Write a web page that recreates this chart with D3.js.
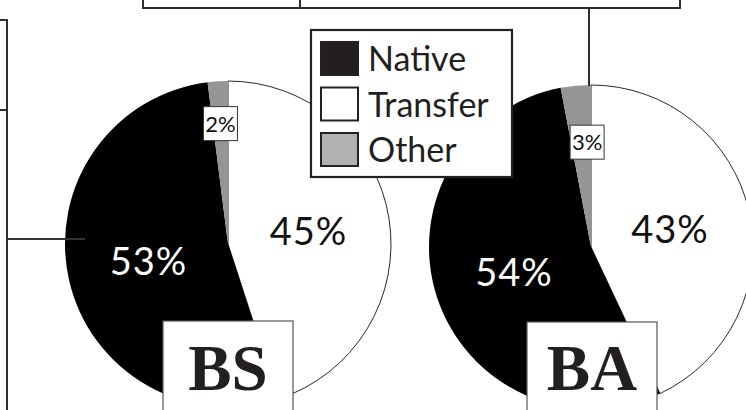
<!DOCTYPE html>
<html>
<head>
<meta charset="utf-8">
<script src="https://cdn.jsdelivr.net/npm/d3@7"></script>
<style>
  body { margin: 0; background: #fff; }
  svg { display: block; }
</style>
</head>
<body>
<svg id="chart"></svg>
<script>
/* DATA */
const categories = ["Transfer", "Native", "Other"];
const bsValues = [45, 53, 2];
const baValues = [43, 54, 3];
const degrees = ["BS", "BA"];
const legendOrder = ["Native", "Transfer", "Other"];

/* LAYOUT */
const width = 746, height = 410;
const pies = [
  { name: degrees[0], values: bsValues, cx: 228, cy: 244, r: 163, smallR: 0.74, nudge: 0, boxX: 163, boxY: 321 },
  { name: degrees[1], values: baValues, cx: 591, cy: 247, r: 162, smallR: 0.65, nudge: 6, boxX: 527, boxY: 322 }
];

const fillColor = d3.scaleOrdinal()
  .domain(categories)
  .range(["#ffffff", "#000000", "#959595"]);
const swatchColor = d3.scaleOrdinal()
  .domain(categories)
  .range(["#ffffff", "#231f20", "#b1b1b4"]);

const sans = "Lato, 'Open Sans', sans-serif";

const svg = d3.select("#chart")
  .attr("width", width)
  .attr("height", height);

// background frame pieces (parts of the larger diagram)
const frame = svg.append("g")
  .attr("fill", "none")
  .attr("stroke", "#2d2d2d")
  .attr("stroke-width", 2);

/* PIES */
const pie = d3.pie().sort(null).value(d => d.value);

pies.forEach(p => {
  const rows = categories.map((c, i) => ({ category: c, value: p.values[i] }));
  const arcs = pie(rows);
  const arc = d3.arc().innerRadius(0).outerRadius(p.r);
  const smallArc = d3.arc().innerRadius(p.r * p.smallR).outerRadius(p.r * p.smallR);

  const g = svg.append("g")
    .attr("transform", `translate(${p.cx},${p.cy})`);

  g.selectAll("path.slice")
    .data(arcs)
    .join("path")
    .attr("class", "slice")
    .attr("d", arc)
    .attr("fill", d => fillColor(d.data.category))
    .attr("stroke", d => d.data.category === "Transfer" ? "#111" : "none")
    .attr("stroke-width", 0.9);

  // big labels
  g.selectAll("text.big")
    .data(arcs.filter(d => d.data.category !== "Other"))
    .join("text")
    .attr("class", "big")
    .attr("transform", d => `translate(${arc.centroid(d)})`)
    .attr("text-anchor", "middle")
    .attr("dy", "0.36em")
    .attr("font-family", sans)
    .attr("font-size", 38)
    .attr("letter-spacing", 1)
    .attr("fill", d => d.data.category === "Native" ? "#fff" : "#111")
    .text(d => d.data.value + "%");

  // small boxed label for "Other"
  const small = arcs.filter(d => d.data.category === "Other")[0];
  const [sx, sy] = smallArc.centroid(small);
  const sg = g.append("g").attr("transform", `translate(${sx + p.nudge},${sy})`);
  sg.append("rect")
    .attr("x", -17).attr("y", -17)
    .attr("width", 34).attr("height", 34)
    .attr("fill", "#fff")
    .attr("stroke", "#333")
    .attr("stroke-width", 1);
  sg.append("text")
    .attr("text-anchor", "middle")
    .attr("dy", "0.36em")
    .attr("font-family", sans)
    .attr("font-size", 22)
    .attr("fill", "#111")
    .text(small.data.value + "%");

  // degree name box
  svg.append("rect")
    .attr("x", p.boxX).attr("y", p.boxY)
    .attr("width", 130).attr("height", 120)
    .attr("fill", "#fff")
    .attr("stroke", "#555")
    .attr("stroke-width", 1.2);
  svg.append("text")
    .attr("x", p.boxX + 65).attr("y", 390)
    .attr("text-anchor", "middle")
    .attr("font-family", "'Liberation Serif', 'Times New Roman', serif")
    .attr("font-weight", "bold")
    .attr("font-size", 65)
    .attr("fill", "#231f20")
    .text(p.name);
});

/* CONNECTOR LINES */
frame.append("path").attr("d", "M143,-5 V8 H680 V-5");
frame.append("path").attr("d", "M300,-5 V8");
frame.append("path").attr("d", "M589,8 V86");
frame.append("path").attr("d", "M-5,20 H7 V420");
frame.append("path").attr("d", "M-5,110 H7");
frame.append("path").attr("d", "M7,239 H85").attr("stroke", "#333");
frame.raise();

/* LEGEND */
const legend = svg.append("g").attr("transform", "translate(311,30)");
legend.append("rect")
  .attr("width", 201).attr("height", 147)
  .attr("fill", "#fff")
  .attr("stroke", "#222")
  .attr("stroke-width", 2.2);

const item = legend.selectAll("g.item")
  .data(legendOrder)
  .join("g")
  .attr("class", "item")
  .attr("transform", (d, i) => `translate(10,${12 + i * 45.5})`);

item.append("rect")
  .attr("width", 37).attr("height", 33)
  .attr("fill", d => swatchColor(d))
  .attr("stroke", "#222")
  .attr("stroke-width", 2);

item.append("text")
  .attr("x", 47).attr("y", 29)
  .attr("font-family", sans)
  .attr("font-size", 34)
  .attr("fill", "#231f20")
  .text(d => d);
</script>
</body>
</html>
